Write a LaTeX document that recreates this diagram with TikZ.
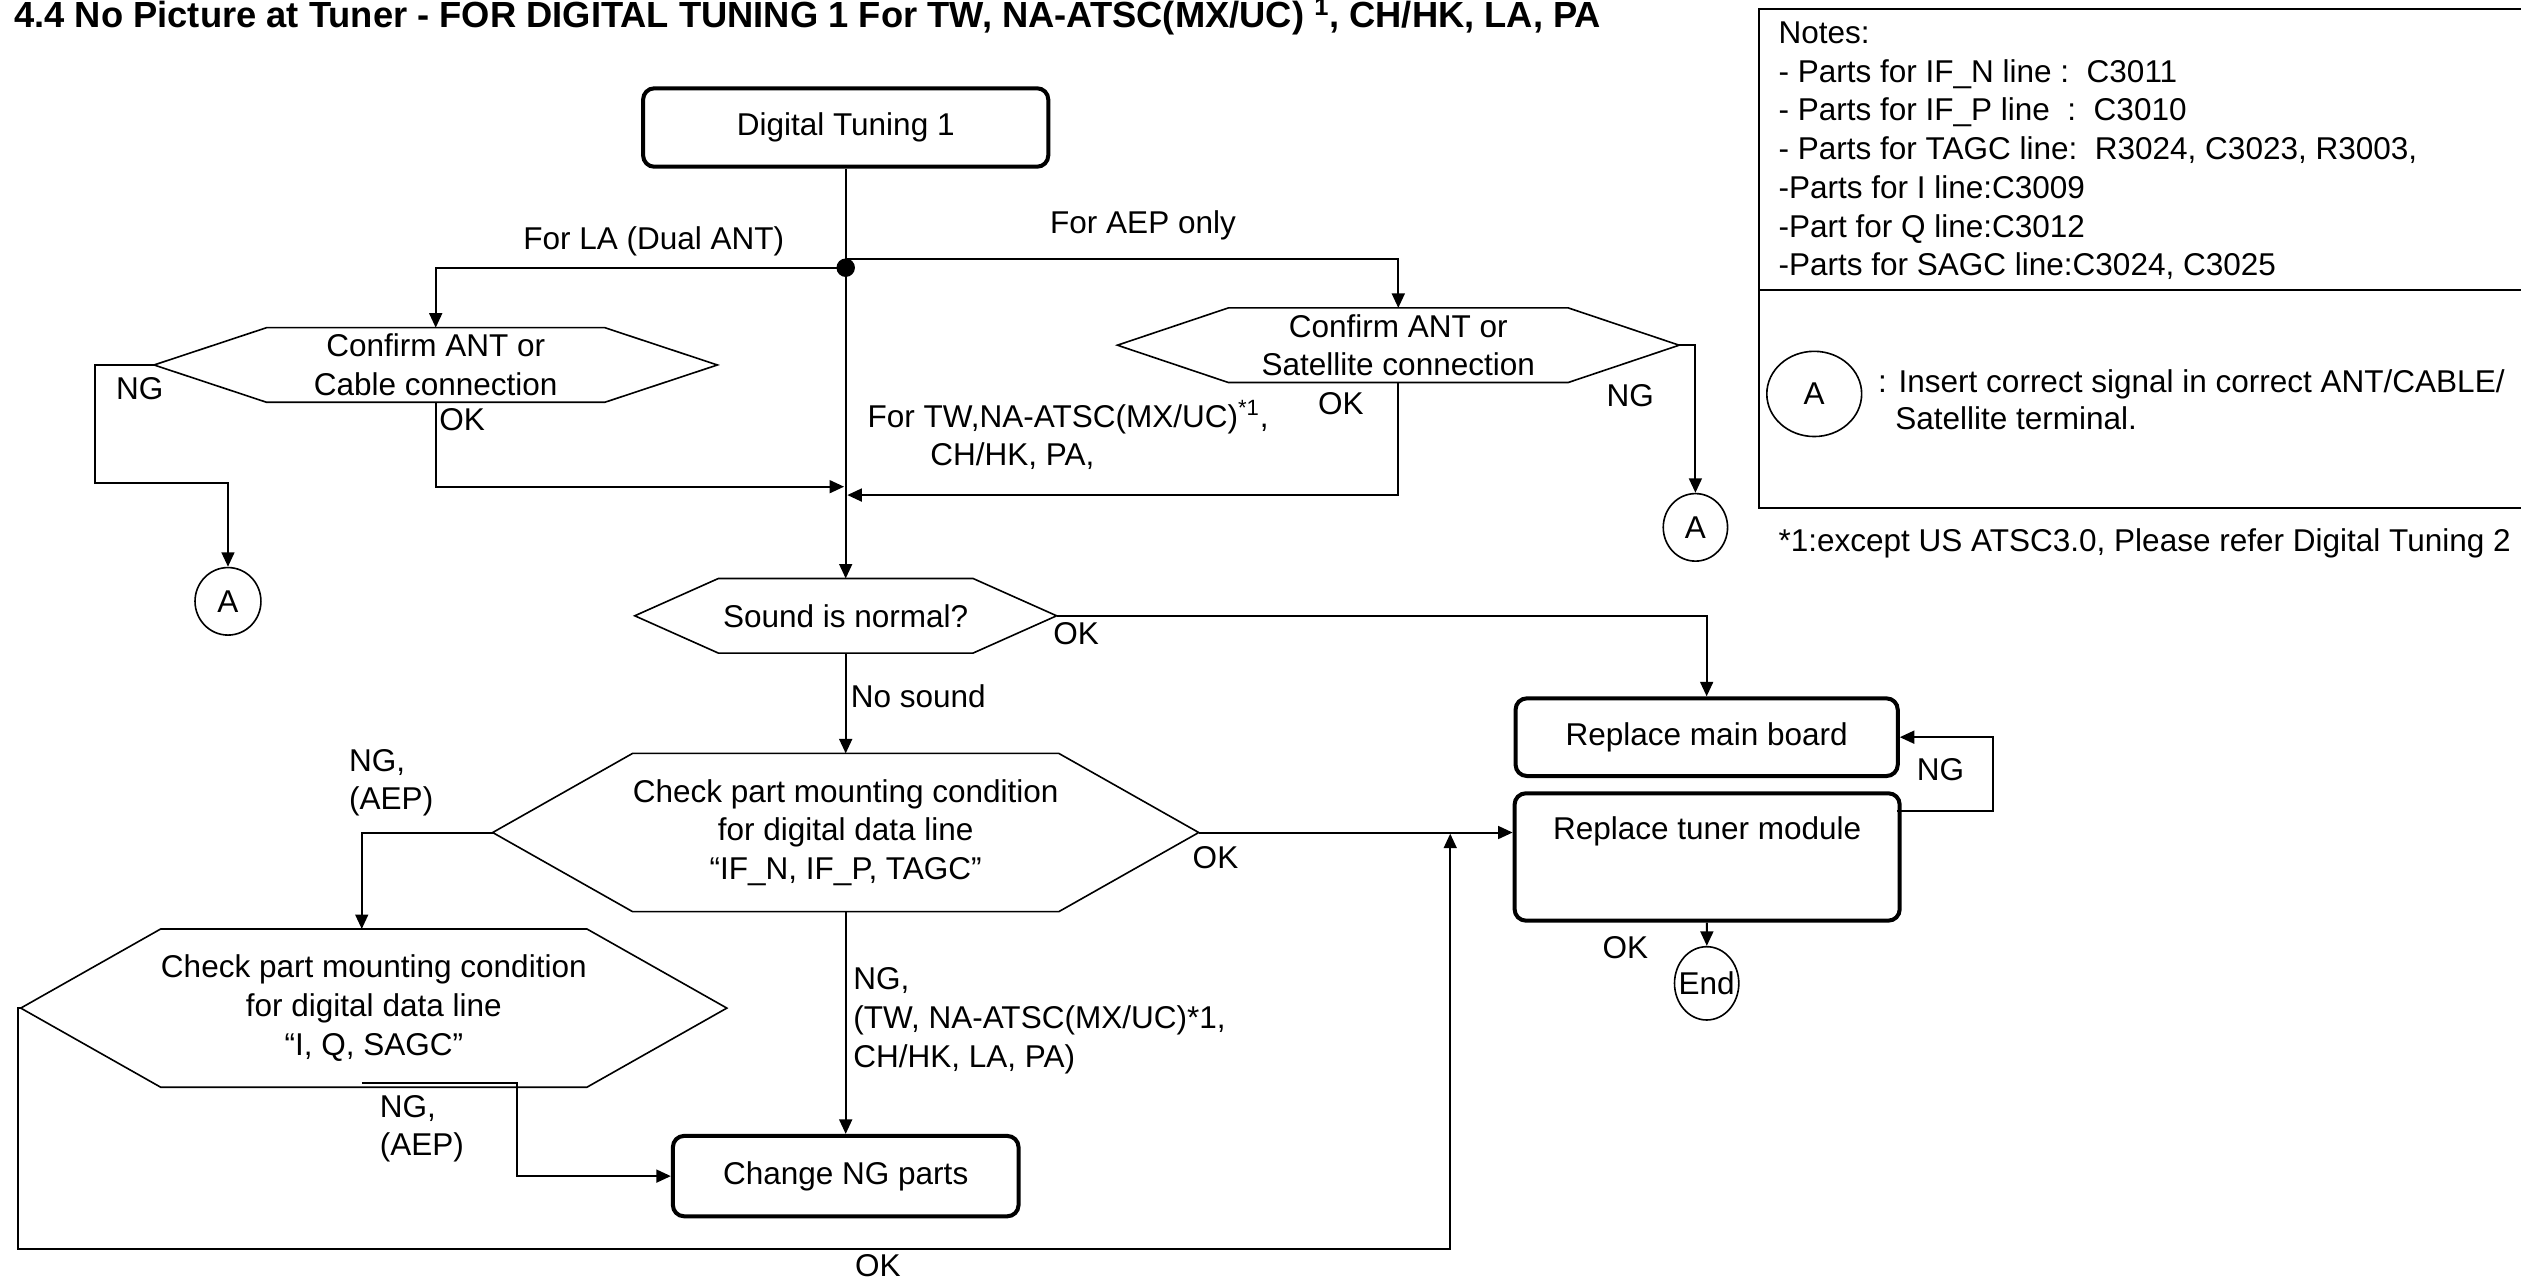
\documentclass[tikz,border=0pt]{standalone}
\usepackage{fontspec}
\setmainfont{Liberation Sans}
\usetikzlibrary{arrows.meta,shapes.geometric,calc}
\newcommand{\hexdraw}[2]{\draw[hexline] (#1.north west) -- (#1.north east) -- ([xshift=#2pt]#1.east) coordinate (#1-e) -- (#1.south east) -- (#1.south west) -- ([xshift=-#2pt]#1.west) coordinate (#1-w) -- cycle;}
\tikzset{
  conn/.style={line width=1.25pt, -{Triangle[length=9pt,width=8pt]}},
  plain/.style={line width=1.25pt},
  procbox/.style={draw, line width=2.5pt, rounded corners=7pt, inner sep=0pt},
  hexbody/.style={inner sep=0pt, align=center},
  hexline/.style={line width=1pt, line join=miter},
  lbl/.style={inner sep=0pt, align=left},
  conncircle/.style={draw, ellipse, line width=1pt, inner sep=0pt},
  notetext/.style={anchor=base west, inner sep=0pt},
}
\begin{document}
\begin{tikzpicture}[x=1pt,y=-1pt,font=\fontsize{19.6}{24.1}\selectfont]
\useasboundingbox (0,0) rectangle (1568,796);

% title
\node[anchor=base west, inner sep=0pt, font=\fontsize{22.6}{26}\selectfont\bfseries] (title) at (8.7,17)
  {4.4 No Picture at Tuner - FOR DIGITAL TUNING 1 For TW, NA-ATSC(MX/UC) \textsuperscript{1}, CH/HK, LA, PA};

% main nodes
\node[procbox, minimum width=252pt, minimum height=48.8pt] (dt1) at (526,79.3) {Digital Tuning 1};
\node[circle, fill, inner sep=0pt, minimum size=11.5pt] (jn) at (526,166.5) {};
\node[hexbody, minimum width=210pt, minimum height=46pt] (la) at (271,227) {Confirm ANT or\\Cable connection};
\node[hexbody, minimum width=211pt, minimum height=46pt] (aep) at (869.7,214.7) {Confirm ANT or\\Satellite connection};
\node[conncircle, minimum width=41pt, minimum height=42pt] (aL) at (141.8,374) {\makebox[0pt]{A}};
\node[conncircle, minimum width=40pt, minimum height=42pt] (aR) at (1054.5,328) {\makebox[0pt]{A}};
\node[hexbody, minimum width=158pt, minimum height=46pt] (snd) at (526,383) {Sound is normal?};
\node[hexbody, minimum width=262pt, minimum height=98pt] (chk1) at (526,517.8) {Check part mounting condition\\for digital data line\\“IF\_N, IF\_P, TAGC”};
\node[hexbody, minimum width=263pt, minimum height=98pt] (chk2) at (232.5,627) {Check part mounting condition\\for digital data line\\“I, Q, SAGC”};
\node[procbox, minimum width=215pt, minimum height=50pt] (chg) at (526,731.5) {Change NG parts};
\node[procbox, minimum width=237.7pt, minimum height=48.3pt] (rmb) at (1061.5,458.5) {Replace main board};
\node[procbox, minimum width=239.5pt, text height=28.8pt, text depth=50.4pt] (rtm) at (1061.8,533) {Replace tuner module};
\node[conncircle, minimum width=40pt, minimum height=45.6pt] (endn) at (1061.5,611.6) {\makebox[0pt]{End}};

% hexagon outlines
\hexdraw{la}{70}
\hexdraw{aep}{69}
\hexdraw{snd}{52}
\hexdraw{chk1}{87}
\hexdraw{chk2}{87}

\coordinate (mainL) at (525,302.7);
\coordinate (mainR) at (527,307.9);
\coordinate (okj) at (902,518.5);

% connectors
\draw[conn] (dt1) -- (snd);
\draw[conn] (jn.center) -| (la.north);
\draw[conn] ([yshift=5.3pt]jn.center) -| (aep.north);
\draw[conn] (la-w) -| (59.3,300.2) -| (aL.north);
\draw[conn] (la.south) |- (mainL);
\draw[conn] (aep.south) |- (mainR);
\draw[conn] (aep-e) -| (aR.north);
\draw[conn] (snd) -- (chk1);
\draw[conn] (snd-e) -| (rmb.north);
\draw[conn] (chk1-e) -- (chk1-e -| rtm.west);
\draw[conn] (chk1-w) -| ([xshift=-7.5pt]chk2.north);
\draw[conn] (chk1) -- (chg);
\draw[conn] ([xshift=-7.5pt,yshift=2.6pt]chk2.south) -| (321.4,731.5) -- (chg.west);
\draw[conn] (chk2-w) -- ++(-2,0) |- (902,777) -- (okj);
\draw[conn] (rtm) -- (endn);
\draw[conn] ([xshift=-3pt,yshift=28.6pt]rtm.east) -- (1239.3,504.4) |- (rmb.east);

% labels
\node[lbl, anchor=east] (lLA) at (488,150.3) {For LA (Dual ANT)};
\node[lbl, anchor=west] (lAEP) at (653,140) {For AEP only};
\node[lbl, anchor=west] (lTW1) at (539.4,259.2) {For TW,NA-ATSC(MX/UC)\textsuperscript{*1},};
\node[lbl, anchor=west] (lTW2) at (578.4,283.5) {CH/HK, PA,};
\node[lbl] (okLA) at (287.5,261) {OK};
\node[lbl] (ngLA) at (87,242) {NG};
\node[lbl] (okAEP) at (834,251) {OK};
\node[lbl] (ngAEP) at (1014,246) {NG};
\node[lbl, anchor=west] (okSnd) at (655,394) {OK};
\node[lbl, anchor=west] (noSnd) at (529,433.3) {No sound};
\node[lbl, anchor=west] (ngA1) at (217,486.8) {NG,\\(AEP)};
\node[lbl] (okC1) at (756,533.7) {OK};
\node[lbl, anchor=west] (ngC1) at (530.5,635) {NG,\\(TW, NA-ATSC(MX/UC)*1,\\CH/HK, LA, PA)};
\node[lbl, anchor=west] (ngA2) at (236,702) {NG,\\(AEP)};
\node[lbl] (okB) at (546,787) {OK};
\node[lbl] (ngR) at (1207,479) {NG};
\node[lbl] (okE) at (1011,589.7) {OK};

% notes box
\draw[plain] (1094,5.5) rectangle (1580,315.7);
\draw[plain] (1094,180.4) -- (1580,180.4);
\node[notetext] (n0) at (1106,27) {Notes:};
\node[notetext] (n1) at (1106,51.1) {- Parts for IF\_N line :~~C3011};
\node[notetext] (n2) at (1106,75.2) {- Parts for IF\_P line~~:~~C3010};
\node[notetext] (n3) at (1106,99.3) {- Parts for TAGC line:~~R3024, C3023, R3003,};
\node[notetext] (n4) at (1106,123.4) {-Parts for I line:C3009};
\node[notetext] (n5) at (1106,147.5) {-Part for Q line:C3012};
\node[notetext] (n6) at (1106,171.6) {-Parts for SAGC line:C3024, C3025};
\node[conncircle, minimum width=59pt, minimum height=53pt] (aN) at (1128.4,245) {\makebox[0pt]{A}};
\node[notetext] (nA1) at (1168,244.4) {: Insert correct signal in correct ANT/CABLE/};
\node[notetext] (nA2) at (1178.6,267) {Satellite terminal.};
\node[notetext] (foot) at (1106,343) {*1:except US ATSC3.0, Please refer Digital Tuning 2};
\end{tikzpicture}
\end{document}
